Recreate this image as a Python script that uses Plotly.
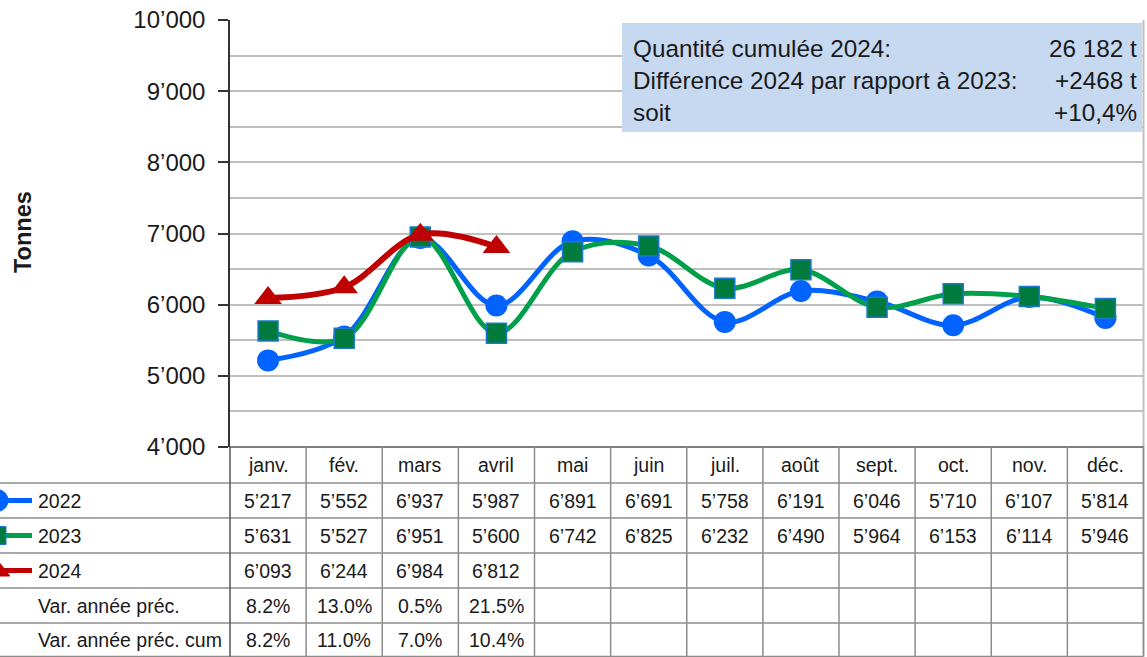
import plotly.graph_objects as go

W, H = 1147, 657

months = ["janv.", "fév.", "mars", "avril", "mai", "juin", "juil.", "août",
          "sept.", "oct.", "nov.", "déc."]
v2022 = [5217, 5552, 6937, 5987, 6891, 6691, 5758, 6191, 6046, 5710, 6107, 5814]
v2023 = [5631, 5527, 6951, 5600, 6742, 6825, 6232, 6490, 5964, 6153, 6114, 5946]
v2024 = [6093, 6244, 6984, 6812]
var_prec = [8.2, 13.0, 0.5, 21.5]
var_cum = [8.2, 11.0, 7.0, 10.4]
y_ticks = [4000, 5000, 6000, 7000, 8000, 9000, 10000]
info_left = ["Quantité cumulée 2024:", "Différence 2024 par rapport à 2023:", "soit"]
info_right = ["26 182 t", "+2468 t", "+10,4%"]

FONT = "Liberation Sans, Arial, sans-serif"
TXT = "#1a1a1a"
GRID = "#bfbfbf"
TBL = "#8c8c8c"

def px(x):
    return x / W

def py(y):
    return 1 - y / H

def fmt(v):
    return f"{v:,}".replace(",", "’")

# geometry (pixels)
PL, PR, PT, PB = 230, 1143.5, 20, 447
ROWS = [447, 483, 518, 553, 588, 623, 656.5]
colw = (PR - PL) / 12

blue = "#0062ff"
green = "#00a04a"
dgreen = "#007a3d"
red = "#c00000"

fig = go.Figure()
x_idx = list(range(12))
fig.add_trace(go.Scatter(x=x_idx, y=v2022, mode="lines+markers", name="2022",
                         line=dict(color=blue, width=5, shape="spline", smoothing=1.0),
                         marker=dict(symbol="circle", size=22, color=blue)))
fig.add_trace(go.Scatter(x=x_idx, y=v2023, mode="lines+markers", name="2023",
                         line=dict(color=green, width=5, shape="spline", smoothing=1.0),
                         marker=dict(symbol="square", size=20, color=dgreen,
                                     line=dict(color="#1a78d0", width=1.5))))
fig.add_trace(go.Scatter(x=x_idx[:len(v2024)], y=v2024, mode="lines+markers", name="2024",
                         line=dict(color=red, width=6, shape="spline", smoothing=1.0),
                         marker=dict(symbol="triangle-up", size=24, color=red)))

# legend keys in the table (separate full-figure subplot in pixel units)
keys = [(blue, blue, "circle", 22), (green, dgreen, "square", 18), (red, red, "triangle-up", 22)]
for i, (lc, mc, sym, sz) in enumerate(keys):
    yc = (ROWS[i + 1] + ROWS[i + 2]) / 2
    fig.add_trace(go.Scatter(x=[0, 32], y=[yc, yc], mode="lines", xaxis="x2", yaxis="y2",
                             line=dict(color=lc, width=5), showlegend=False, hoverinfo="skip"))
    fig.add_trace(go.Scatter(x=[-3], y=[yc], mode="markers", xaxis="x2", yaxis="y2",
                             marker=dict(symbol=sym, size=sz, color=mc,
                                         line=dict(color="#1a78d0" if sym == "square" else mc, width=1)),
                             showlegend=False, hoverinfo="skip"))

shapes = []
# right border of plot + table
shapes.append(dict(type="line", xref="paper", yref="paper", x0=px(PR), x1=px(PR),
                   y0=py(PT), y1=py(ROWS[-1]), line=dict(color=GRID, width=2)))
# table horizontal lines
shapes.append(dict(type="line", xref="paper", yref="paper", x0=px(PL), x1=px(PR),
                   y0=py(ROWS[0]), y1=py(ROWS[0]), line=dict(color="#555555", width=1.5)))
for y in ROWS[1:]:
    shapes.append(dict(type="line", xref="paper", yref="paper", x0=0, x1=px(PR),
                       y0=py(y), y1=py(y), line=dict(color=TBL, width=1.5)))
# table vertical lines
for k in range(13):
    x = PL + k * colw
    shapes.append(dict(type="line", xref="paper", yref="paper", x0=px(x), x1=px(x),
                       y0=py(ROWS[0]), y1=py(ROWS[-1]),
                       line=dict(color=TBL if k else "#555555", width=1.5)))
# info box
shapes.append(dict(type="rect", xref="paper", yref="paper", x0=px(622), x1=px(1142),
                   y0=py(23), y1=py(132), fillcolor="#c6d9f1", line=dict(width=0), layer="above"))

ann = []
def row_center(r):
    return py((ROWS[r] + ROWS[r + 1]) / 2)

def cell(x, y, text, xref="x", xanchor="center", size=19.5):
    ann.append(dict(x=x, xref=xref, y=y, yref="paper", text=text, showarrow=False,
                    xanchor=xanchor, yanchor="middle",
                    font=dict(size=size, color=TXT, family=FONT)))

for i, m in enumerate(months):
    cell(i, row_center(0), m)
for r, vals in enumerate([v2022, v2023, v2024]):
    for i, v in enumerate(vals):
        cell(i, row_center(r + 1), fmt(v))
for r, vals in enumerate([var_prec, var_cum]):
    for i, v in enumerate(vals):
        cell(i, row_center(r + 4), f"{v:.1f}%")
for r, lab in enumerate(["2022", "2023", "2024", "Var. année préc.", "Var. année préc. cum"]):
    cell(px(36), row_center(r + 1), lab, xref="paper", xanchor="left")

for j, (l, rt) in enumerate(zip(info_left, info_right)):
    yc = py(48 + 32 * j)
    cell(px(631), yc, l, xref="paper", xanchor="left", size=24.3)
    cell(px(1139), yc, rt, xref="paper", xanchor="right", size=24.3)

ann.append(dict(x=px(23), xref="paper", y=py(232), yref="paper", text="<b>Tonnes</b>",
                textangle=-90, showarrow=False, xanchor="center", yanchor="middle",
                font=dict(size=23.5, color=TXT, family=FONT)))

fig.update_layout(
    width=W, height=H, margin=dict(l=0, r=0, t=0, b=0, pad=0), autosize=False,
    paper_bgcolor="white", plot_bgcolor="rgba(0,0,0,0)", showlegend=False,
    xaxis=dict(domain=[px(PL), px(PR)], range=[-0.5, 11.5], showticklabels=False,
               showgrid=False, zeroline=False, showline=False, fixedrange=True,
               automargin=False, anchor="y"),
    yaxis=dict(domain=[py(PB), py(PT)], range=[4000, 10000], tickvals=y_ticks,
               ticktext=[fmt(v) for v in y_ticks], ticks="outside", ticklen=10,
               tickcolor="#333333", tickwidth=1.5, showline=True, linecolor="#333333",
               linewidth=1.5, showgrid=True, gridcolor=GRID, gridwidth=2, zeroline=False,
               minor=dict(dtick=500, showgrid=True, gridcolor=GRID, gridwidth=2, ticks=""),
               tickfont=dict(size=24, color=TXT, family=FONT), ticklabelstandoff=8,
               automargin=False, anchor="x"),
    xaxis2=dict(domain=[0, 1], range=[0, W], visible=False, anchor="y2",
                fixedrange=True, automargin=False),
    yaxis2=dict(domain=[0, 1], range=[H, 0], visible=False, anchor="x2",
                fixedrange=True, automargin=False),
    shapes=shapes, annotations=ann,
)

fig.write_html("out.html", config={"displayModeBar": False},
               post_script="document.body.style.margin='0';document.body.style.overflow='hidden';")
